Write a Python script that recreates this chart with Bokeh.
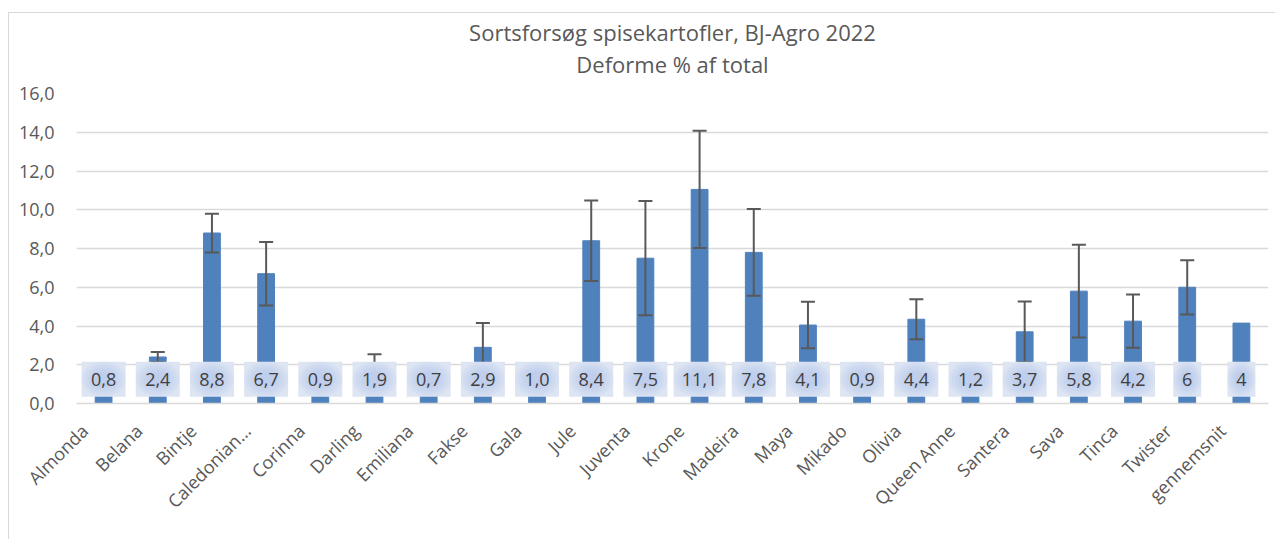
from bokeh.plotting import figure
from bokeh.models import ColumnDataSource, Range1d, FixedTicker, Title, LinearAxis
from bokeh.core.properties import value
from bokeh.embed import file_html
from bokeh.resources import INLINE

categories = ["Almonda", "Belana", "Bintje", "Caledonian…", "Corinna", "Darling", "Emiliana",
              "Fakse", "Gala", "Jule", "Juventa", "Krone", "Madeira", "Maya", "Mikado", "Olivia",
              "Queen Anne", "Santera", "Sava", "Tinca", "Twister", "gennemsnit"]
values = [0.8, 2.4, 8.8, 6.7, 0.9, 1.9, 0.7, 2.9, 1.0, 8.4, 7.5, 11.05, 7.8, 4.05, 0.9, 4.35,
          1.2, 3.7, 5.8, 4.25, 6.0, 4.15]
labels = ["0,8", "2,4", "8,8", "6,7", "0,9", "1,9", "0,7", "2,9", "1,0", "8,4", "7,5", "11,1",
          "7,8", "4,1", "0,9", "4,4", "1,2", "3,7", "5,8", "4,2", "6", "4"]
errors = [None, 0.26, 1.0, 1.64, None, 0.64, None, 1.26, None, 2.08, 2.95, 3.03, 2.24, 1.2,
          None, 1.03, None, 1.56, 2.39, 1.37, 1.4, None]
y_ticks = [0, 2, 4, 6, 8, 10, 12, 14, 16]
y_tick_labels = ["0,0", "2,0", "4,0", "6,0", "8,0", "10,0", "12,0", "14,0", "16,0"]
title_line1 = "Sortsforsøg spisekartofler, BJ-Agro 2022"
title_line2 = "Deforme % af total"

TXT = "#595959"
FONT = "Open Sans"
n = len(categories)
xpos = [i + 0.5 for i in range(n)]  # category slot centres

p = figure(x_range=Range1d(0, n), y_range=Range1d(0, 16),
           width=1267, height=527, output_backend="svg", toolbar_location=None,
           x_axis_location=None,
           min_border_left=67, min_border_right=8, min_border_top=80, min_border_bottom=137,
           background_fill_color="white", border_fill_color="white",
           styles={"margin-top": "12px", "margin-left": "8px",
                   "border-left": "1px solid #d9d9d9", "border-top": "1px solid #d9d9d9"})
p.outline_line_color = None

p.title.text = title_line1
p.title.align = "center"
p.title.text_font = FONT
p.title.text_font_size = "22px"
p.title.text_font_style = "normal"
p.title.text_color = TXT
p.title.standoff = 0
# small spacer between the second title line and the plot area (added first = nearest frame)
spacer = Title(text=" ", align="center", text_font=FONT, text_font_size="4px",
               text_color="white", standoff=7)
p.add_layout(spacer, "above")
t2 = Title(text=title_line2, align="center", text_font=FONT, text_font_size="22px",
           text_font_style="normal", text_color=TXT, standoff=1)
p.add_layout(t2, "above")

src = ColumnDataSource(dict(x=xpos, val=values, lab=labels,
                            lw=[8 * len(s) + 20 for s in labels],
                            ly=[1.25] * n))
p.vbar(x="x", top="val", width=0.31, source=src, fill_color="#4f81bd", line_color="#4f81bd")

ex = [x for x, e in zip(xpos, errors) if e is not None]
eup = [v + e for v, e in zip(values, errors) if e is not None]
elo = [v - e for v, e in zip(values, errors) if e is not None]
esrc = ColumnDataSource(dict(base=ex, upper=eup, lower=elo))
p.segment(x0="base", y0="lower", x1="base", y1="upper", source=esrc,
          line_color="#595959", line_width=2)
p.scatter(x="base", y="upper", marker="dash", size=14, source=esrc,
          line_color="#595959", line_width=2)
p.scatter(x="base", y="lower", marker="dash", size=14, source=esrc,
          line_color="#595959", line_width=2)

# data label boxes with a soft radial glow
p.rect(x="x", y="ly", width="lw", height=35, width_units="screen", height_units="screen",
       source=src, fill_color="#dde5f3", line_color=None)
for f in [1.0, 0.85, 0.7, 0.55, 0.4]:
    gsrc = ColumnDataSource(dict(x=xpos, ly=[1.25] * n,
                                 gw=[(8 * len(s) + 20) * f for s in labels]))
    p.ellipse(x="x", y="ly", width="gw", height=35 * f, width_units="screen",
              height_units="screen", source=gsrc, fill_color="#a4bce5", fill_alpha=0.13,
              line_color=None)
p.text(x="x", y="ly", text="lab", source=src, text_font=value(FONT), text_font_size="18px",
       text_color="#404040", text_align="center", text_baseline="middle")

p.xgrid.grid_line_color = None
p.ygrid.grid_line_color = "#d9d9d9"
p.ygrid.grid_line_width = 1.5

p.yaxis.ticker = FixedTicker(ticks=y_ticks)
p.yaxis.major_label_overrides = {t: l for t, l in zip(y_ticks, y_tick_labels)}
p.yaxis.axis_line_color = None
p.yaxis.major_tick_line_color = None
p.yaxis.minor_tick_line_color = None
p.yaxis.major_label_standoff = 16
p.yaxis.major_label_text_font = FONT
p.yaxis.major_label_text_font_size = "18px"
p.yaxis.major_label_text_color = TXT

# rotated category names: ticks sit slightly left of each bar, as Excel places them
shift = 0.35
tick_pos = [round(x - shift, 2) for x in xpos]
xa = LinearAxis(ticker=FixedTicker(ticks=tick_pos),
                major_label_overrides={t: c for t, c in zip(tick_pos, categories)},
                major_label_orientation=0.785398, major_label_standoff=18,
                major_label_text_font=FONT, major_label_text_font_size="18px",
                major_label_text_color=TXT, axis_line_color="#d9d9d9", axis_line_width=1.5,
                major_tick_line_color=None, minor_tick_line_color=None)
p.add_layout(xa, "below")

open("out.html", "w").write(file_html(p, INLINE))
